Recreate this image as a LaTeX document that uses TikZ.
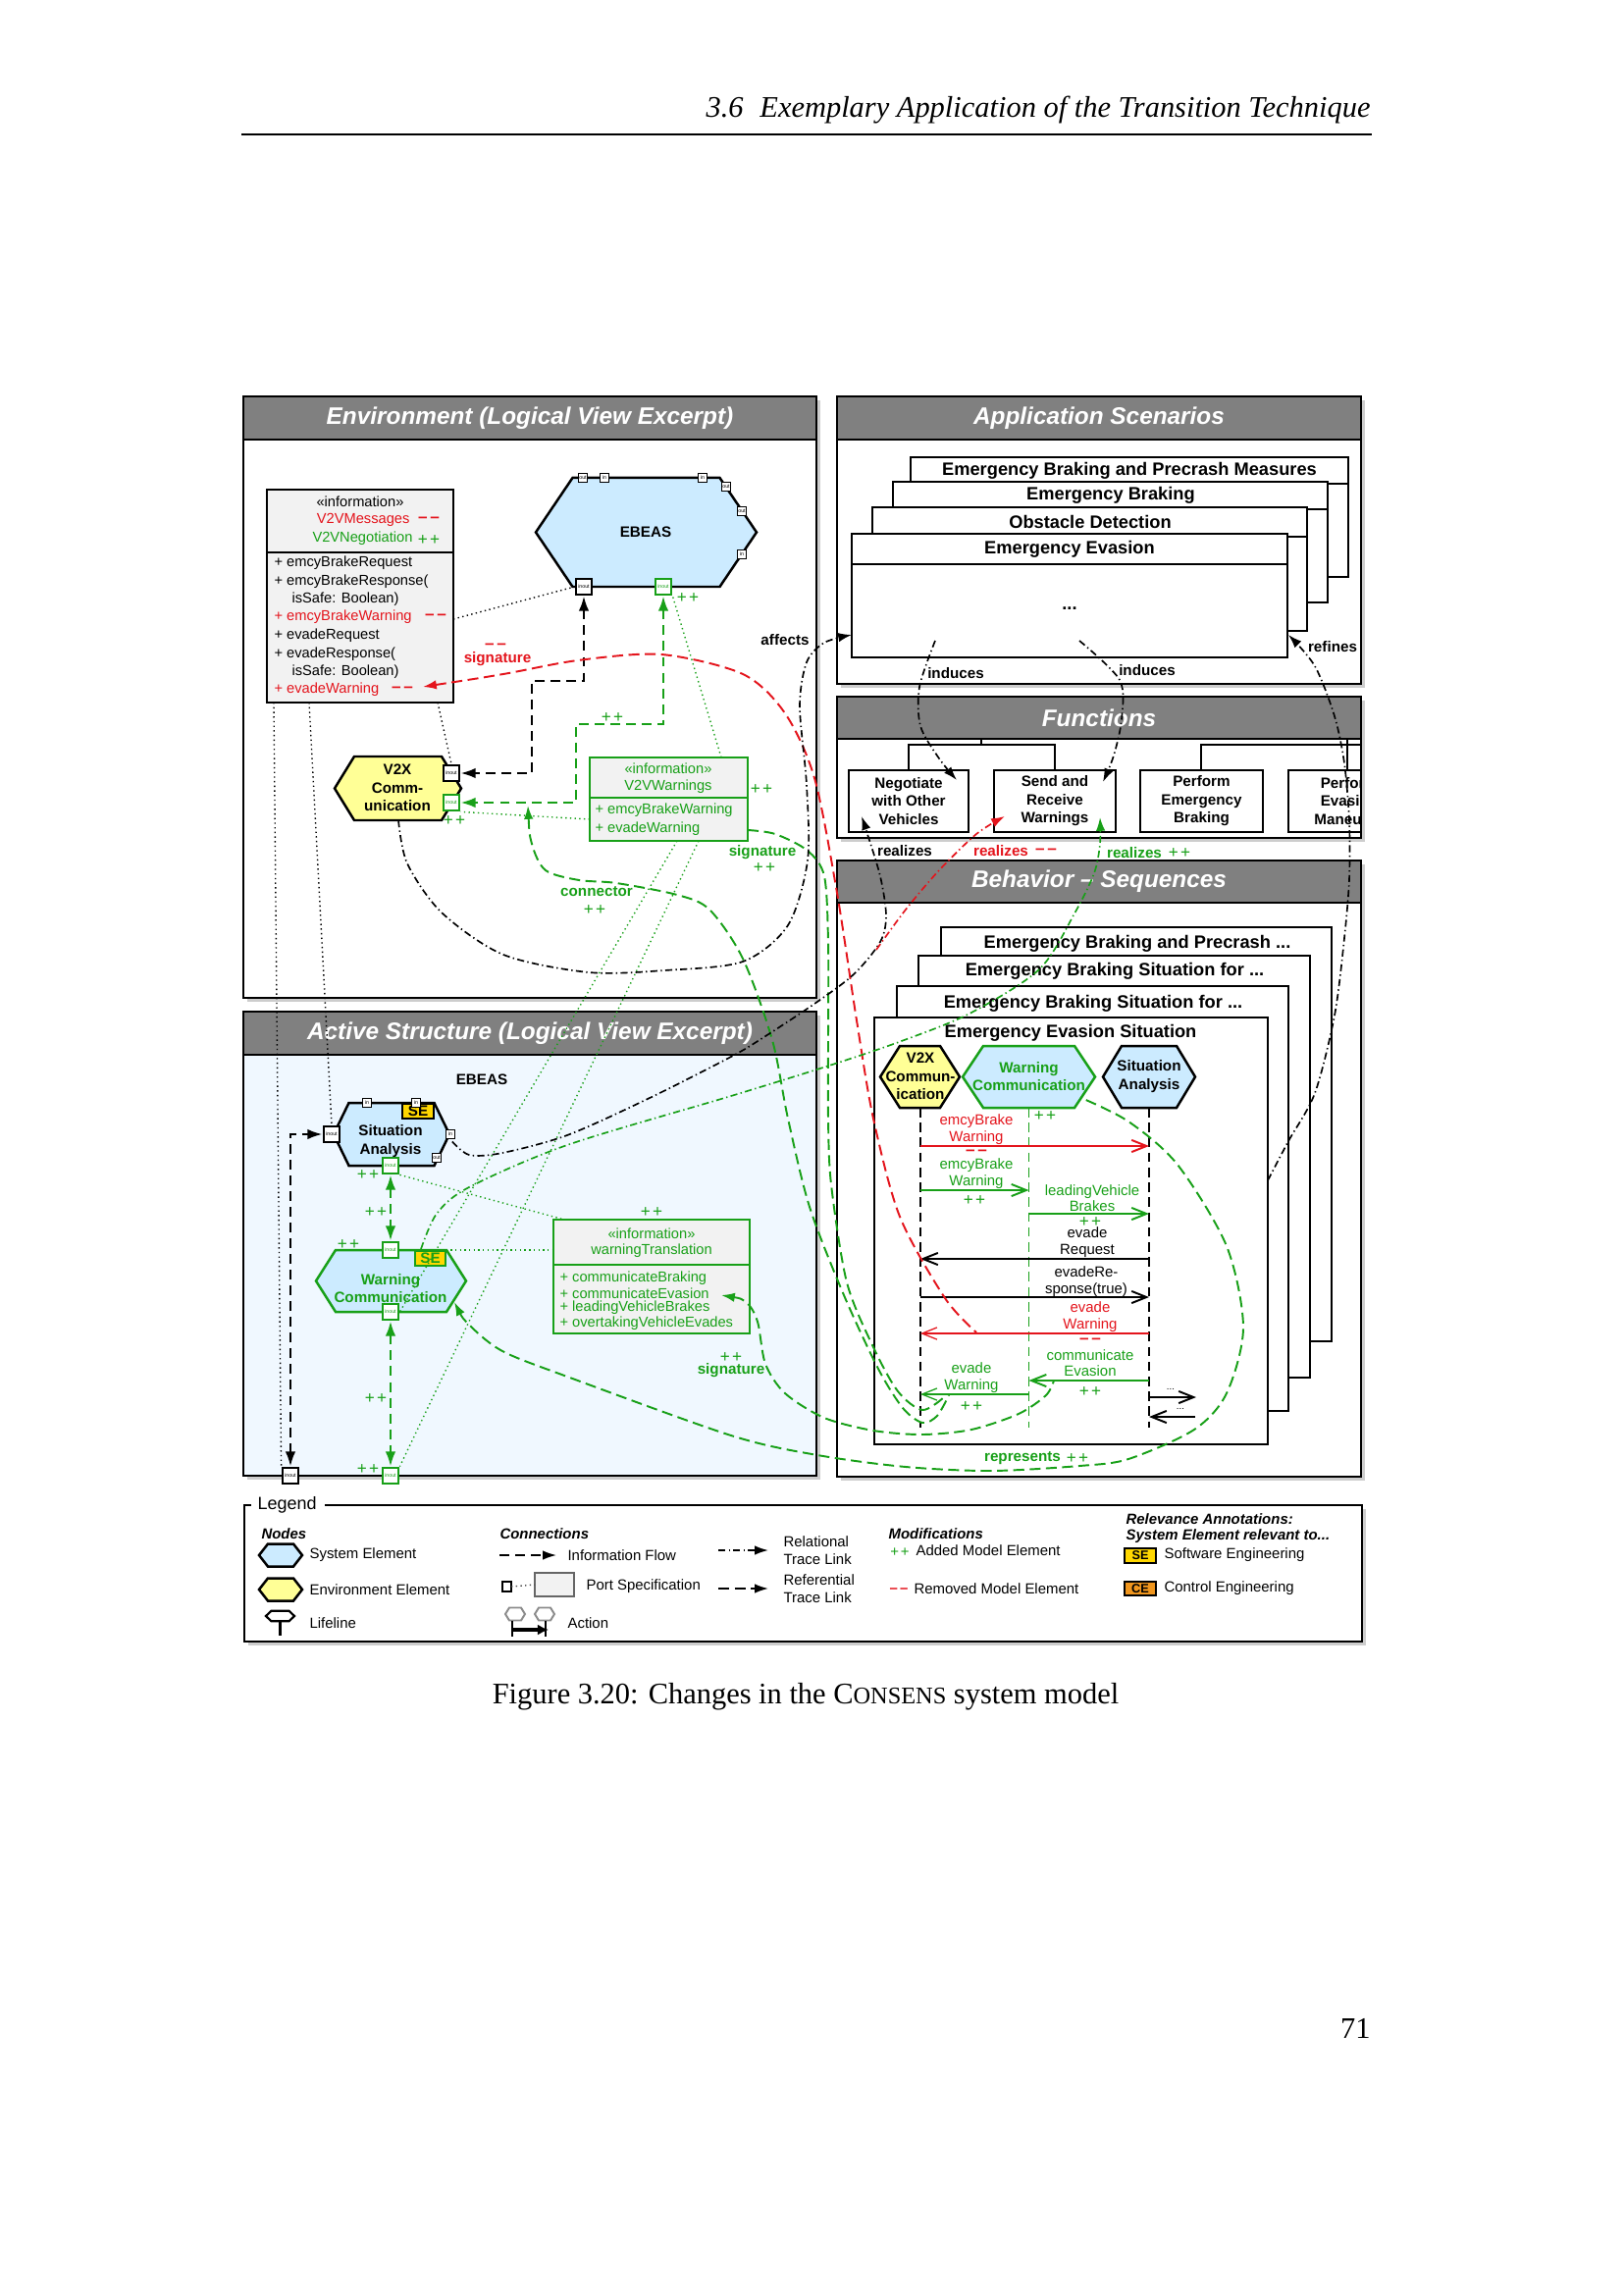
\documentclass[tikz,border=0pt]{standalone}
\usepackage{fontspec}
\setmainfont{Liberation Serif}
\setsansfont{Liberation Sans}
\usetikzlibrary{arrows.meta,calc}
\definecolor{tgray}{RGB}{128,128,128}
\definecolor{sysblue}{RGB}{204,235,255}
\definecolor{envyel}{RGB}{255,255,150}
\definecolor{grn}{RGB}{24,160,24}
\definecolor{rd}{RGB}{228,20,28}
\definecolor{infog}{RGB}{242,242,242}
\definecolor{actbg}{RGB}{240,248,255}
\definecolor{segold}{RGB}{255,215,0}
\definecolor{ceor}{RGB}{240,150,30}
\definecolor{shad}{RGB}{205,205,205}
\newcommand\dgttl{\sffamily\fontsize{8.8}{10}\selectfont\bfseries\itshape}
\newcommand\dgfrm{\sffamily\fontsize{6.6}{7.6}\selectfont\bfseries}
\newcommand\dgbld{\sffamily\fontsize{5.5}{6.7}\selectfont\bfseries}
\newcommand\dgreg{\sffamily\fontsize{5.3}{6.7}\selectfont}
\newcommand\dgpm{\sffamily\fontsize{6.2}{6.7}\selectfont}
\newcommand\dgmsg{\sffamily\fontsize{5.4}{5.9}\selectfont}
\newcommand\dglab{\sffamily\fontsize{5.5}{6.5}\selectfont\bfseries}
\newcommand\dgprt{\sffamily\fontsize{1.9}{2}\selectfont}
\newcommand\dgleg{\sffamily\fontsize{5.4}{6.4}\selectfont}
\newcommand\dgpp{+\hspace{0.12em}+}
\newcommand\dgmm{–\hspace{0.15em}–}
\newcommand\dgbox[6]{\node[#6,minimum width={(#4-#2)*0.36135pt},minimum height={(#5-#3)*0.36135pt},inner sep=0pt,outer sep=0pt] (#1) at ({(#2+#4)/2},{(#3+#5)/2}) {};}
\newcommand\dghex[7]{\node[minimum width={2*#4*0.36135pt},minimum height={2*#6*0.36135pt},inner sep=0pt,outer sep=0pt] (#1) at (#2,#3) {};
 \path[#7] ({#2-#4},{#3}) -- ({#2-#5},{#3-#6}) -- ({#2+#5},{#3-#6}) -- ({#2+#4},{#3}) -- ({#2+#5},{#3+#6}) -- ({#2-#5},{#3+#6}) -- cycle;}
\tikzset{
 pnl/.style={draw=black,line width=0.9pt,fill=white},
 tbar/.style={draw=black,line width=0.9pt,fill=tgray},
 ttl/.style={text=white,font=\dgttl,inner sep=0pt},
 sh/.style={fill=shad,draw=none},
 frm/.style={draw=black,line width=0.8pt,fill=white},
 ftxt/.style={font=\dgfrm,inner sep=0pt},
 bport/.style={draw=black,fill=white,line width=0.7pt,minimum size=6.1pt,inner sep=0pt,font=\dgprt},
 gport/.style={bport,draw=grn,text=grn},
 sport/.style={draw=black,fill=white,line width=0.5pt,minimum size=3.4pt,inner sep=0pt,font=\dgprt},
 ibox/.style={draw=black,fill=infog,line width=0.7pt},
 txt/.style={inner sep=0pt,font=\dgreg},
 btxt/.style={inner sep=0pt,font=\dgbld,align=center},
 mtxt/.style={inner sep=0pt,font=\dgmsg,align=center},
 lab/.style={inner sep=0pt,font=\dglab,align=center},
 pls/.style={inner sep=0pt,font=\dgpm,text=grn},
 mns/.style={inner sep=0pt,font=\dgpm\bfseries,text=rd},
 iflow/.style={line width=0.9pt,dash pattern=on 3.6pt off 2.2pt},
 rtrace/.style={line width=0.6pt,dash pattern=on 2.6pt off 1.2pt on 0.5pt off 1.2pt},
 ftrace/.style={line width=0.7pt,dash pattern=on 4pt off 2pt},
 ptrace/.style={line width=0.5pt,dash pattern=on 0.5pt off 1.2pt},
 lline/.style={line width=0.9pt,dash pattern=on 3.5pt off 2pt},
 msg/.style={line width=0.7pt,-{Straight Barb[length=5.5pt,width=4.4pt]}},
 tipe/.style={-{Latex[length=5pt,width=3.4pt]}},
 tips/.style={{Latex[length=5pt,width=3.4pt]}-},
 tipb/.style={{Latex[length=5.5pt,width=3.8pt]}-{Latex[length=5.5pt,width=3.8pt]}},
 hexb/.style={draw=black,line width=0.9pt,fill=sysblue},
 hexg/.style={draw=grn,line width=0.9pt,fill=sysblue},
 hexy/.style={draw=black,line width=0.9pt,fill=envyel},
}
\begin{document}
\begin{tikzpicture}[x=0.36135pt,y=-0.36135pt]
\useasboundingbox (0,0) rectangle (1654,2339);
\fill[white] (0,0) rectangle (1654,2339);

% ---------------- page header / caption / page number
\node[anchor=base east,inner sep=0pt,font=\fontsize{11}{13}\selectfont\itshape] (hdr) at (1397,120) {3.6\hspace{0.55em}Exemplary Application of the Transition Technique};
\draw[line width=0.5pt] (246,137) -- (1398,137);
\node[anchor=base,inner sep=0pt,font=\fontsize{11}{13}\selectfont] (cap) at (821,1736) {Figure 3.20: Changes in the C{\fontsize{8.8}{10}\selectfont ONSENS} system model};
\node[anchor=base east,inner sep=0pt,font=\fontsize{11}{13}\selectfont] (pgn) at (1397,2077) {71};

% ================= ENVIRONMENT PANEL
\fill[sh] (252,408) rectangle (836,1021);
\dgbox{envp}{248}{404}{832}{1017}{pnl}
\dgbox{envt}{248}{404}{832}{448}{tbar}
\node[ttl] (envtt) at (envt) {Environment (Logical View Excerpt)};

% information V2VMessages
\dgbox{v2vm}{272}{499}{462}{716}{ibox}
\draw[line width=0.7pt] (272,563) -- (462,563);
\node[txt] (im0) at (367,511) {«information»};
\node[txt,text=rd,anchor=east] (im1) at (418,530) {V2VMessages};
\node[mns] (im1m) at (437,530) {\dgmm};
\node[txt,text=grn,anchor=east] (im2) at (421,549) {V2VNegotiation};
\node[pls] (im2p) at (437,551) {\dgpp};
\node[txt,anchor=west] (im3) at (279,574) {+ emcyBrakeRequest};
\node[txt,anchor=west] (im4) at (279,593) {+ emcyBrakeResponse(};
\node[txt,anchor=west] (im5) at (297,611) {isSafe: Boolean)};
\node[txt,anchor=west,text=rd] (im6) at (279,629) {+ emcyBrakeWarning};
\node[mns] (im6m) at (444,629) {\dgmm};
\node[txt,anchor=west] (im7) at (279,648) {+ evadeRequest};
\node[txt,anchor=west] (im8) at (279,667) {+ evadeResponse(};
\node[txt,anchor=west] (im9) at (297,685) {isSafe: Boolean)};
\node[txt,anchor=west,text=rd] (im10) at (279,703) {+ evadeWarning};
\node[mns] (im10m) at (410,703) {\dgmm};

% EBEAS
\dghex{ebeas}{658.5}{542.5}{112.5}{75}{55.5}{hexb}
\node[btxt] (ebeast) at (658,542) {EBEAS};
\node[sport] (ebo1) at (594,487) {out};
\node[sport] (ebi1) at (616,487) {in};
\node[sport] (ebi2) at (716,487) {in};
\node[sport] (ebo2) at (740,496) {out};
\node[sport] (ebo3) at (756,521) {out};
\node[sport] (ebi3) at (756,565) {in};
\node[bport] (ebio) at (595,598) {inout};
\node[gport] (ebgio) at (676,598) {inout};
\node[pls] (ebpp) at (701,610) {\dgpp};

% V2X environment element
\dghex{v2x}{405.5}{803.5}{64.5}{44.5}{32.5}{hexy}
\node[btxt] (v2xt) at (405,803) {V2X\\Comm-\\unication};
\node[bport] (v2xio) at (460,788) {inout};
\node[gport] (v2xgio) at (460,818) {inout};
\node[pls] (v2xpp) at (463,837) {\dgpp};

% V2VWarnings
\dgbox{v2vw}{601}{772}{762}{857}{ibox,draw=grn}
\draw[grn,line width=0.7pt] (601,813) -- (762,813);
\node[txt,text=grn] (iw0) at (681,783) {«information»};
\node[txt,text=grn] (iw1) at (681,802) {V2VWarnings};
\node[txt,text=grn,anchor=west] (iw2) at (606,826) {+ emcyBrakeWarning};
\node[txt,text=grn,anchor=west] (iw3) at (606,845) {+ evadeWarning};
\node[pls] (iwpp) at (776,805) {\dgpp};

% flows in environment
\draw[iflow,tipb] (ebio.south) -- (595,694) -- (542,694) -- (542,788) -- (v2xio.east);
\draw[iflow,grn,tipb] (ebgio.south) -- (676,738) -- (587,738) -- (587,818) -- (v2xgio.east);
\node[pls] (flpp) at (624,732) {\dgpp};

% ================= ACTIVE STRUCTURE PANEL
\fill[sh] (252,1035) rectangle (836,1508);
\dgbox{actp}{248}{1031}{832}{1504}{pnl,fill=actbg}
\dgbox{actt}{248}{1031}{832}{1075}{tbar}
\node[ttl] (acttt) at (actt) {Active Structure (Logical View Excerpt)};
\node[btxt] (aeb) at (491,1100) {EBEAS};

% Situation Analysis
\dghex{asa}{399}{1156}{59}{43.5}{32}{hexb}
\dgbox{asase}{410}{1125}{442}{1140}{draw=black,fill=segold,line width=0.6pt}
\node[btxt] (asaset) at (asase) {SE};
\node[btxt] (asat) at (398,1163) {Situation\\Analysis};
\node[sport] (asain1) at (374,1124) {in};
\node[sport] (asain2) at (424,1124) {in};
\node[sport] (asain3) at (459,1156) {in};
\node[sport] (asaout) at (445,1180) {out};
\node[bport] (asaio) at (338,1156) {inout};
\node[gport] (asagio) at (398,1188) {inout};

% Warning Communication
\dghex{awc}{398.5}{1305.5}{76.5}{56.5}{31.5}{hexg}
\dgbox{awcse}{423}{1275}{454}{1290}{draw=grn,fill=segold,line width=0.6pt}
\node[btxt,text=grn] (awcset) at (awcse) {SE};
\node[btxt,text=grn] (awct) at (398,1313) {Warning\\Communication};
\node[gport] (awctio) at (398,1274) {inout};
\node[gport] (awcbio) at (398,1337) {inout};
\node[pls] (awcpp) at (355,1269) {\dgpp};

% boundary ports
\node[bport] (abio) at (296,1504) {inout};
\node[gport] (abgio) at (398,1504) {inout};

% warningTranslation
\dgbox{wtr}{564}{1243}{764}{1359}{ibox,draw=grn}
\draw[grn,line width=0.7pt] (564,1289) -- (764,1289);
\node[txt,text=grn] (wt0) at (664,1257) {«information»};
\node[txt,text=grn] (wt1) at (664,1275) {warningTranslation};
\node[txt,text=grn,anchor=west] (wt2) at (570,1303) {+ communicateBraking};
\node[txt,text=grn,anchor=west] (wt3) at (570,1318) {+ communicateEvasion};
\node[txt,text=grn,anchor=west] (wt4) at (570,1333) {+ leadingVehicleBrakes};
\node[txt,text=grn,anchor=west] (wt5) at (570,1349) {+ overtakingVehicleEvades};
\node[pls] (wtpp) at (664,1236) {\dgpp};

% flows in active structure
\draw[iflow,tipb] (abio.north) -- (296,1156) -- (asaio.west);
\draw[iflow,grn,tipb] (asagio.south) -- (awctio.north);
\draw[iflow,grn,tipb] (awcbio.south) -- (abgio.north);
\node[pls] (af1) at (375,1198) {\dgpp};
\node[pls] (af2) at (383,1236) {\dgpp};
\node[pls] (af3) at (383,1426) {\dgpp};
\node[pls] (af4) at (375,1498) {\dgpp};

% ================= APPLICATION SCENARIOS
\fill[sh] (857,408) rectangle (1391,701);
\dgbox{appp}{853}{404}{1387}{697}{pnl}
\dgbox{appt}{853}{404}{1387}{448}{tbar}
\node[ttl] (apptt) at (appt) {Application Scenarios};
\dgbox{as1}{928}{466}{1374}{588}{frm}
\draw[line width=0.8pt] (928,493) -- (1374,493);
\node[ftxt] (as1t) at (1151,480) {Emergency Braking and Precrash Measures};
\dgbox{as2}{910}{491}{1353}{614}{frm}
\draw[line width=0.8pt] (910,519) -- (1353,519);
\node[ftxt] (as2t) at (1132,505) {Emergency Braking};
\dgbox{as3}{889}{517}{1332}{643}{frm}
\draw[line width=0.8pt] (889,547) -- (1332,547);
\node[ftxt] (as3t) at (1111,532) {Obstacle Detection};
\dgbox{as4}{868}{544}{1312}{670}{frm}
\draw[line width=0.8pt] (868,575) -- (1312,575);
\node[ftxt] (as4t) at (1090,560) {Emergency Evasion};
\node[ftxt] (as4d) at (1090,620) {...};

% ================= FUNCTIONS
\fill[sh] (857,714) rectangle (1391,858);
\dgbox{funp}{853}{710}{1387}{854}{pnl}
\dgbox{funt}{853}{710}{1387}{753}{tbar}
\node[ttl] (funtt) at (funt) {Functions};
\draw[line width=0.6pt] (1000,753) -- (1000,759) (926,785) -- (926,759) -- (1075,759) -- (1075,785);
\draw[line width=0.6pt] (1224,785) -- (1224,759) -- (1387,759) (1373,753) -- (1373,785);
\dgbox{fn1}{865}{785}{987}{848}{draw=black,line width=0.7pt,fill=white}
\node[btxt] (fn1t) at (fn1) {Negotiate\\with Other\\Vehicles};
\dgbox{fn2}{1013}{785}{1137}{848}{draw=black,line width=0.7pt,fill=white}
\node[btxt] (fn2t) at (fn2) {Send and\\Receive\\Warnings};
\dgbox{fn3}{1162}{785}{1287}{848}{draw=black,line width=0.7pt,fill=white}
\node[btxt] (fn3t) at (fn3) {Perform\\Emergency\\Braking};
\begin{scope}
\clip (853,710) rectangle (1387,854);
\dgbox{fn4}{1313}{785}{1437}{848}{draw=black,line width=0.7pt,fill=white}
\node[btxt] (fn4t) at (fn4) {Perform\\Evasion\\Maneuver};
\end{scope}
\draw[line width=0.9pt] (funp.north east) -- (funp.south east);

% ================= BEHAVIOR
\fill[sh] (857,881) rectangle (1391,1509);
\dgbox{behp}{853}{877}{1387}{1505}{pnl}
\dgbox{beht}{853}{877}{1387}{920}{tbar}
\node[ttl] (behtt) at (beht) {Behavior – Sequences};
\dgbox{bf1}{959}{945}{1357}{1367}{frm}
\node[ftxt] (bf1t) at (1159,962) {Emergency Braking and Precrash ...};
\dgbox{bf2}{936}{974}{1335}{1404}{frm}
\node[ftxt] (bf2t) at (1136,990) {Emergency Braking Situation for ...};
\dgbox{bf3}{914}{1005}{1313}{1438}{frm}
\node[ftxt] (bf3t) at (1114,1023) {Emergency Braking Situation for ...};
\dgbox{bf4}{891}{1037}{1292}{1472}{frm}
\node[ftxt] (bf4t) at (1091,1053) {Emergency Evasion Situation};

% lifelines
\coordinate (lv2x) at (938,1455);
\coordinate (lwc) at (1048.5,1455);
\coordinate (lsa) at (1171,1455);
\draw[lline] (938,1129) -- (lv2x);
\draw[grn,line width=0.5pt,dash pattern=on 3.5pt off 2pt] (1048.5,1129) -- (lwc);
\draw[lline] (1171,1129) -- (lsa);
\dghex{sv2x}{937.5}{1097.5}{40.5}{20.5}{31.5}{hexy}
\node[btxt] (sv2xt) at (938,1097) {V2X\\Commun-\\ication};
\dghex{swc}{1048.5}{1097.5}{67.5}{46.5}{31.5}{hexg}
\node[btxt,text=grn] (swct) at (1048.5,1097) {Warning\\Communication};
\dghex{ssa}{1171}{1097.5}{47}{28}{31.5}{hexb}
\node[btxt] (ssat) at (1171,1097) {Situation\\Analysis};
\node[pls] (swcpp) at (1065,1138) {\dgpp};

% messages
\draw[msg,rd] (938,1168) -- (1171,1168);
\node[mtxt,text=rd] (m1) at (995,1151) {emcyBrake\\Warning};
\node[mns] (m1m) at (995,1175) {\dgmm};
\draw[msg,grn] (938,1213) -- (1048.5,1213);
\node[mtxt,text=grn] (m2) at (995,1196) {emcyBrake\\Warning};
\node[pls] (m2p) at (993,1224) {\dgpp};
\draw[msg,grn] (1048.5,1237) -- (1171,1237);
\node[mtxt,text=grn] (m3) at (1113,1221) {leadingVehicle\\Brakes};
\node[pls] (m3p) at (1111,1246) {\dgpp};
\draw[msg] (1171,1283) -- (938,1283);
\node[mtxt] (m4) at (1108,1266) {evade\\Request};
\draw[msg] (938,1322) -- (1171,1322);
\node[mtxt] (m5) at (1107,1306) {evadeRe-\\sponse(true)};
\draw[msg,rd,line width=0.45pt] (1171,1359) -- (938,1359);
\node[mtxt,text=rd] (m6) at (1111,1342) {evade\\Warning};
\node[mns] (m6m) at (1111,1367) {\dgmm};
\draw[msg,grn] (1171,1407) -- (1048.5,1407);
\node[mtxt,text=grn] (m7) at (1111,1389) {communicate\\Evasion};
\node[pls] (m7p) at (1111,1419) {\dgpp};
\draw[msg,grn,line width=0.45pt] (1048.5,1421) -- (938,1421);
\node[mtxt,text=grn] (m8) at (990,1404) {evade\\Warning};
\node[pls] (m8p) at (990,1434) {\dgpp};
\draw[msg] (1171,1424) -- (1219,1424);
\node[inner sep=0pt,font=\sffamily\fontsize{3.5}{4}\selectfont] (m9) at (1193,1416) {...};
\draw[msg] (1218,1444) -- (1171,1444);
\node[inner sep=0pt,font=\sffamily\fontsize{3.5}{4}\selectfont] (m10) at (1203,1436) {...};

% ================= LEGEND
\fill[sh] (253,1538) rectangle (1392,1677);
\fill[white] (249,1534) rectangle (1388,1673);
\draw[line width=0.9pt] (256,1534) -- (249,1534) -- (249,1673) -- (1388,1673) -- (1388,1534) -- (331,1534);
\node[anchor=west,inner sep=0pt,font=\sffamily\fontsize{6.5}{7}\selectfont] (legt) at (262,1534) {Legend};
\node[anchor=west,inner sep=0pt,font=\dgleg\bfseries\itshape] (lg1) at (266,1563) {Nodes};
\node[anchor=west,inner sep=0pt,font=\dgleg\bfseries\itshape] (lg2) at (509,1563) {Connections};
\node[anchor=west,inner sep=0pt,font=\dgleg\bfseries\itshape] (lg3) at (905,1563) {Modifications};
\node[anchor=west,inner sep=0pt,font=\dgleg\bfseries\itshape] (lg4) at (1147,1548) {Relevance Annotations:};
\node[anchor=west,inner sep=0pt,font=\dgleg\bfseries\itshape] (lg5) at (1147,1566) {System Element relevant to...};
\dghex{lhs}{286}{1585}{22}{13}{11.5}{hexb}
\node[anchor=west,inner sep=0pt,font=\dgleg] (lgs) at (315,1585) {System Element};
\dghex{lhe}{286}{1620}{22}{13}{11.5}{hexy}
\node[anchor=west,inner sep=0pt,font=\dgleg] (lge) at (315,1620) {Environment Element};
\dghex{lhl}{285.5}{1647}{14.5}{9}{5.3}{draw=black,line width=0.8pt,fill=white}
\draw[line width=0.8pt] (lhl.south) -- (285.5,1667);
\node[anchor=west,inner sep=0pt,font=\dgleg] (lgl) at (315,1654) {Lifeline};
\coordinate (lif1) at (509,1585);
\draw[iflow,line width=0.6pt,tipe] (lif1) -- (567,1585);
\node[anchor=west,inner sep=0pt,font=\dgleg] (lgif) at (578,1585) {Information Flow};
\dgbox{lps1}{512}{1612}{521}{1622}{draw=black,line width=0.6pt,fill=white}
\dgbox{lps2}{545}{1603}{585}{1627}{draw=black!60,line width=0.5pt,fill=infog}
\draw[ptrace,black!70] (lps1.east) -- (lps2.west);
\node[anchor=west,inner sep=0pt,font=\dgleg] (lgps) at (597,1617) {Port Specification};
\dghex{lac1}{525}{1645}{10}{6}{6.5}{draw=black!45,line width=0.7pt,fill=white}
\dghex{lac2}{555}{1645}{10}{6}{6.5}{draw=black!45,line width=0.7pt,fill=white}
\draw[line width=0.5pt] (522,1652) -- (522,1668) (556,1652) -- (556,1668);
\draw[line width=1.2pt,-{Latex[length=4pt,width=4pt]}] (522,1661) -- (559,1661);
\node[anchor=west,inner sep=0pt,font=\dgleg] (lgac) at (578,1654) {Action};
\coordinate (lrt1) at (732,1580);
\draw[rtrace,tipe] (lrt1) -- (783,1580);
\node[anchor=west,inner sep=0pt,font=\dgleg,align=left] (lgrt) at (798,1580) {Relational\\Trace Link};
\coordinate (lft1) at (732,1619);
\draw[ftrace,line width=0.6pt,tipe] (lft1) -- (783,1619);
\node[anchor=west,inner sep=0pt,font=\dgleg,align=left] (lgft) at (798,1619) {Referential\\Trace Link};
\node[inner sep=0pt,font=\dgleg,text=grn] (lgpp) at (917,1582) {\dgpp};
\node[anchor=west,inner sep=0pt,font=\dgleg] (lgadd) at (933,1580) {Added Model Element};
\node[inner sep=0pt,font=\dgleg\bfseries,text=rd] (lgmm) at (916,1621) {\dgmm};
\node[anchor=west,inner sep=0pt,font=\dgleg] (lgrem) at (931,1619) {Removed Model Element};
\dgbox{lse}{1146}{1578}{1178}{1593}{draw=black,fill=segold,line width=0.6pt}
\node[inner sep=0pt,font=\sffamily\fontsize{4.6}{5}\selectfont\bfseries] (lset) at (lse) {SE};
\node[anchor=west,inner sep=0pt,font=\dgleg] (lgse) at (1186,1585) {Software Engineering};
\dgbox{lce}{1146}{1612}{1178}{1626}{draw=black,fill=ceor,line width=0.6pt}
\node[inner sep=0pt,font=\sffamily\fontsize{4.6}{5}\selectfont\bfseries] (lcet) at (lce) {CE};
\node[anchor=west,inner sep=0pt,font=\dgleg] (lgce) at (1186,1619) {Control Engineering};

% ================= CONNECTORS ACROSS VIEWS
% port specification (dotted)
\draw[ptrace] (462,631) -- (ebio.west);
\draw[ptrace] (446,716) -- (v2xio.north);
\draw[ptrace] (279,716) -- (abio.north west);
\draw[ptrace] (315,716) -- (asaio.north);
\draw[ptrace,grn] (735,772) -- (ebgio.south east);
\draw[ptrace,grn] (601,835) -- (v2xgio.south east);
\draw[ptrace,grn] (690,857) -- (awcbio.east);
\draw[ptrace,grn] (712,857) -- (abgio.north east);
\draw[ptrace,grn] (asagio.south east) -- ($(wtr.north west)+(11,0)$);
\draw[ptrace,grn] (awctio.east) -- (awctio -| wtr.west);

% referential links (dashed)
\coordinate (rs0) at (431,700);
\coordinate (rs1) at (995,1358);
\draw[ftrace,rd,tips] plot[smooth] coordinates {(rs0) (513,687) (589,673) (674,667) (757,687) (800,727) (830,793) (853,910) (873,1040) (890,1140) (917,1240) (963,1323) (rs1)};
\node[lab,text=rd] (rsl) at (507,672) {signature};
\node[mns] (rslm) at (505,659) {\dgmm};

\coordinate (gs0) at (762,846);
\coordinate (gs1) at (962,1424);
\draw[ftrace,grn] plot[smooth] coordinates {(gs0) (790,850) (823,867) (840,893) (844,960) (844,1060) (844,1140) (847,1207) (863,1307) (890,1373) (915,1418) (940,1437) (gs1)};
\node[lab,text=grn] (gsl) at (777,869) {signature};
\node[pls] (gslp) at (779,885) {\dgpp};

\coordinate (cn0) at (538,821);
\coordinate (cn1) at (967,1422);
\draw[ftrace,grn,tips] plot[smooth] coordinates {(cn0) (542,860) (556,887) (590,897) (628,900) (690,912) (723,927) (757,977) (787,1060) (803,1140) (825,1230) (860,1320) (895,1395) (920,1435) (940,1450) (955,1443) (cn1)};
\node[lab,text=grn] (cnl) at (608,909) {connector};
\node[pls] (cnlp) at (606,928) {\dgpp};

\coordinate (ce0) at (735,1320);
\coordinate (ce1) at (1074,1407);
\draw[ftrace,grn,tips] plot[smooth] coordinates {(ce0) (760,1327) (772,1347) (780,1390) (800,1420) (840,1445) (890,1458) (940,1462) (990,1457) (1038,1441) (1066,1422) (ce1)};
\node[pls] (celp) at (745,1384) {\dgpp};
\node[lab,text=grn] (cel) at (745,1397) {signature};

\coordinate (rp0) at (463,1327);
\coordinate (rp1) at (1102,1119);
\draw[ftrace,grn,tips] plot[smooth] coordinates {(rp0) (478,1350) (512,1377) (578,1403) (745,1463) (833,1483) (923,1495) (1010,1499) (1100,1494) (1150,1487) (1217,1457) (1250,1420) (1267,1353) (1250,1270) (1200,1187) (1150,1143) (rp1)};
\node[lab,text=grn] (rpl) at (1042,1486) {represents};
\node[pls] (rplp) at (1098,1487) {\dgpp};

% relational links (dash-dot)
\coordinate (af0) at (406,836);
\draw[rtrace,tipe] plot[smooth] coordinates {(af0) (415,880) (450,930) (513,973) (600,991) (677,989) (757,980) (803,943) (823,877) (822,800) (815,720) (822,675) (840,655) (868,647)};
\node[lab] (afl) at (800,652) {affects};

\draw[rtrace,tipe] plot[smooth] coordinates {(953,653) (937,700) (938,740) (957,773) (975,795)};
\node[lab] (in1) at (974,686) {induces};
\draw[rtrace,tipe] plot[smooth] coordinates {(1100,653) (1141,693) (1143,733) (1135,770) (1124,797)};
\node[lab] (in2) at (1169,683) {induces};

\draw[rtrace,tipe] plot[smooth] coordinates {(1292,1203) (1313,1163) (1340,1114) (1360,1035) (1370,956) (1375,896) (1375,837) (1370,778) (1360,730) (1340,679) (1313,647)};
\node[lab] (rfl) at (1358,659) {refines};

\draw[rtrace,tips] plot[smooth] coordinates {(878,832) (883,847) (897,893) (903,933) (897,960) (870,993) (830,1023) (777,1058) (745,1077) (660,1120) (578,1157) (512,1175) (478,1177) (asain3.south)};
\node[lab] (rz1) at (922,867) {realizes};

\draw[rtrace,rd,tipe] plot[smooth] coordinates {(893,968) (923,927) (957,887) (995,850) (1024,832)};
\node[lab,text=rd] (rz2) at (1020,867) {realizes};
\node[mns] (rz2m) at (1066,868) {\dgmm};

\draw[rtrace,grn,tipe] plot[smooth] coordinates {(429,1273) (445,1237) (478,1210) (578,1167) (745,1117) (845,1086) (916,1062) (988,1033) (1059,988) (1095,931) (1115,890) (1121,860) (1121,833)};
\node[lab,text=grn] (rz3) at (1156,869) {realizes};
\node[pls] (rz3p) at (1202,870) {\dgpp};

\end{tikzpicture}
\end{document}
